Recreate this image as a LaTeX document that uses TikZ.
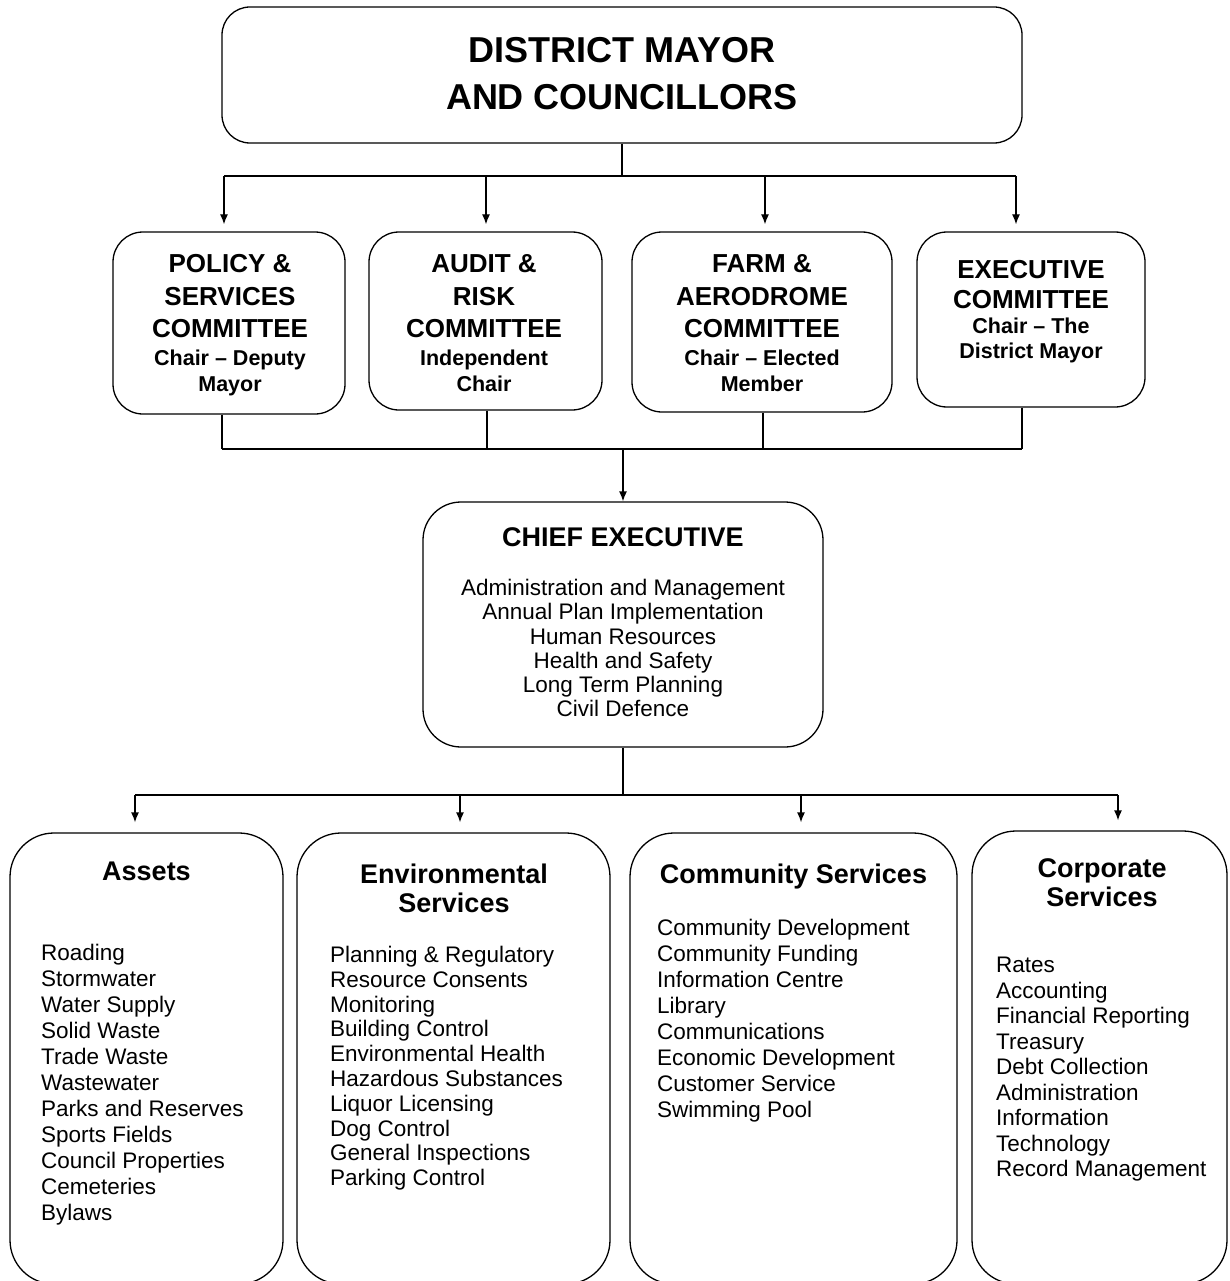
\documentclass[tikz,border=0pt]{standalone}
\usepackage{fontspec}
\setmainfont{Liberation Sans}
\usepackage{tikz}
\usetikzlibrary{arrows.meta}
\tikzset{>={Latex[length=10pt,width=8pt]}}
\tikzset{box/.style={draw=black, line width=1.3pt, rounded corners=#1pt, inner sep=0pt}}
\tikzset{ttl/.style={align=center, anchor=north, inner sep=0pt}}
\tikzset{lst/.style={font=\fontsize{22.5}{#1}\selectfont, align=left, anchor=north west, inner sep=0pt},
    lst/.default=26}
\tikzset{conn/.style={line width=1.3pt}}
\newcommand{\fboss}{\bfseries\fontsize{36}{47}\selectfont}
\newcommand{\fcom}{\bfseries\fontsize{26}{32.5}\selectfont}
\newcommand{\fchair}{\bfseries\fontsize{21.5}{26.5}\selectfont}
\newcommand{\fhead}{\bfseries\fontsize{27}{29}\selectfont}

\begin{document}
\begin{tikzpicture}[x=1pt,y=-1pt]
    \useasboundingbox (0,0) rectangle (1229,1281);
    \clip (0,0) rectangle (1229,1281);

    % council
    \node[box=28, minimum width=800pt, minimum height=136pt] (M) at (622,75) {};
    \node[ttl, font=\fboss] (Mt) at (622,37.2) {DISTRICT MAYOR\\AND COUNCILLORS};

    % committees
    \node[box=30, minimum width=232pt, minimum height=182pt] (P) at (229,323) {};
    \node[box=30, minimum width=233pt, minimum height=178pt] (A) at (485.5,321) {};
    \node[box=30, minimum width=260pt, minimum height=180pt] (F) at (762,322) {};
    \node[box=30, minimum width=228pt, minimum height=175pt] (E) at (1031,319.5) {};

    \node[ttl, font=\fcom] (Pt) at (230,254.4) {POLICY \&\\SERVICES\\COMMITTEE};
    \node[ttl, font=\fchair] (Pc) at (230,349.6) {Chair -- Deputy\\Mayor};
    \node[ttl, font=\fcom] (At) at (484,254.4) {AUDIT \&\\RISK\\COMMITTEE};
    \node[ttl, font=\fchair] (Ac) at (484,349.6) {Independent\\Chair};
    \node[ttl, font=\fcom] (Ft) at (762,254.4) {FARM \&\\AERODROME\\COMMITTEE};
    \node[ttl, font=\fchair] (Fc) at (762,349.6) {Chair -- Elected\\Member};
    \node[ttl, font=\bfseries\fontsize{26}{29.5}\selectfont] (Et) at (1031,260.4) {EXECUTIVE\\COMMITTEE};
    \node[ttl, font=\bfseries\fontsize{21.5}{25.5}\selectfont] (Ec) at (1031,317.6) {Chair -- The\\District Mayor};

    % chief executive
    \node[box=38, minimum width=400pt, minimum height=245pt] (C) at (623,624.5) {};
    \node[ttl, font=\fhead] (Ct) at (623,527.7) {CHIEF EXECUTIVE};
    \node[ttl, font=\fontsize{22.5}{24.3}\selectfont] (Cl) at (623,578.9)
        {Administration and Management\\Annual Plan Implementation\\Human Resources\\
         Health and Safety\\Long Term Planning\\Civil Defence};

    % departments
    \node[box=44, minimum width=273pt, minimum height=451pt] (D1) at (146.5,1058.5) {};
    \node[box=44, minimum width=313pt, minimum height=451pt] (D2) at (453.5,1058.5) {};
    \node[box=44, minimum width=327pt, minimum height=451pt] (D3) at (793.5,1058.5) {};
    \node[box=44, minimum width=255pt, minimum height=453pt] (D4) at (1099.5,1057.5) {};

    \node[ttl, font=\fhead] (D1t) at (146.5,861.7) {Assets};
    \node[ttl, font=\fhead] (D2t) at (454,863.7) {Environmental\\Services};
    \node[ttl, font=\fhead] (D3t) at (793.5,863.7) {Community Services};
    \node[ttl, font=\fhead] (D4t) at (1102,858.7) {Corporate\\Services};

    \node[lst] (D1l) at (41,943.9) {Roading\\Stormwater\\Water Supply\\Solid Waste\\Trade Waste\\
        Wastewater\\Parks and Reserves\\Sports Fields\\Council Properties\\Cemeteries\\Bylaws};
    \node[lst=24.8] (D2l) at (330,945.9) {Planning \& Regulatory\\Resource Consents\\Monitoring\\
        Building Control\\Environmental Health\\Hazardous Substances\\Liquor Licensing\\
        Dog Control\\General Inspections\\Parking Control};
    \node[lst] (D3l) at (657,918.9) {Community Development\\Community Funding\\Information Centre\\
        Library\\Communications\\Economic Development\\Customer Service\\Swimming Pool};
    \node[lst=25.5] (D4l) at (996,956.9) {Rates\\Accounting\\Financial Reporting\\Treasury\\
        Debt Collection\\Administration\\Information\\Technology\\Record Management};

    % council -> committees
    \coordinate (b1L) at (224,176);
    \coordinate (b1R) at (1016,176);
    \draw[conn] (M.south) -- (M.south |- b1L);
    \draw[conn] (b1L) -- (b1R);
    \foreach \x/\n in {224/P,486/A,765/F,1016/E}
        \draw[conn,->,shorten >=7pt] (\x,176) -- (\n.north -| \x,0);

    % committees -> chief executive
    \coordinate (b2L) at (222,449);
    \coordinate (b2R) at (1022,449);
    \foreach \x/\n in {222/P,487/A,763/F,1022/E}
        \draw[conn] (\n.south -| \x,0) -- (\x,449);
    \draw[conn] (b2L) -- (b2R);
    \draw[conn,->] (C.north |- b2L) -- (C.north);

    % chief executive -> departments
    \coordinate (b3L) at (135,795);
    \coordinate (b3R) at (1118,795);
    \draw[conn] (C.south) -- (C.south |- b3L);
    \draw[conn] (b3L) -- (b3R);
    \foreach \x/\n in {135/D1,460/D2,801/D3,1118/D4}
        \draw[conn,->,shorten >=10pt] (\x,795) -- (\n.north -| \x,0);

\end{tikzpicture}
\end{document}
